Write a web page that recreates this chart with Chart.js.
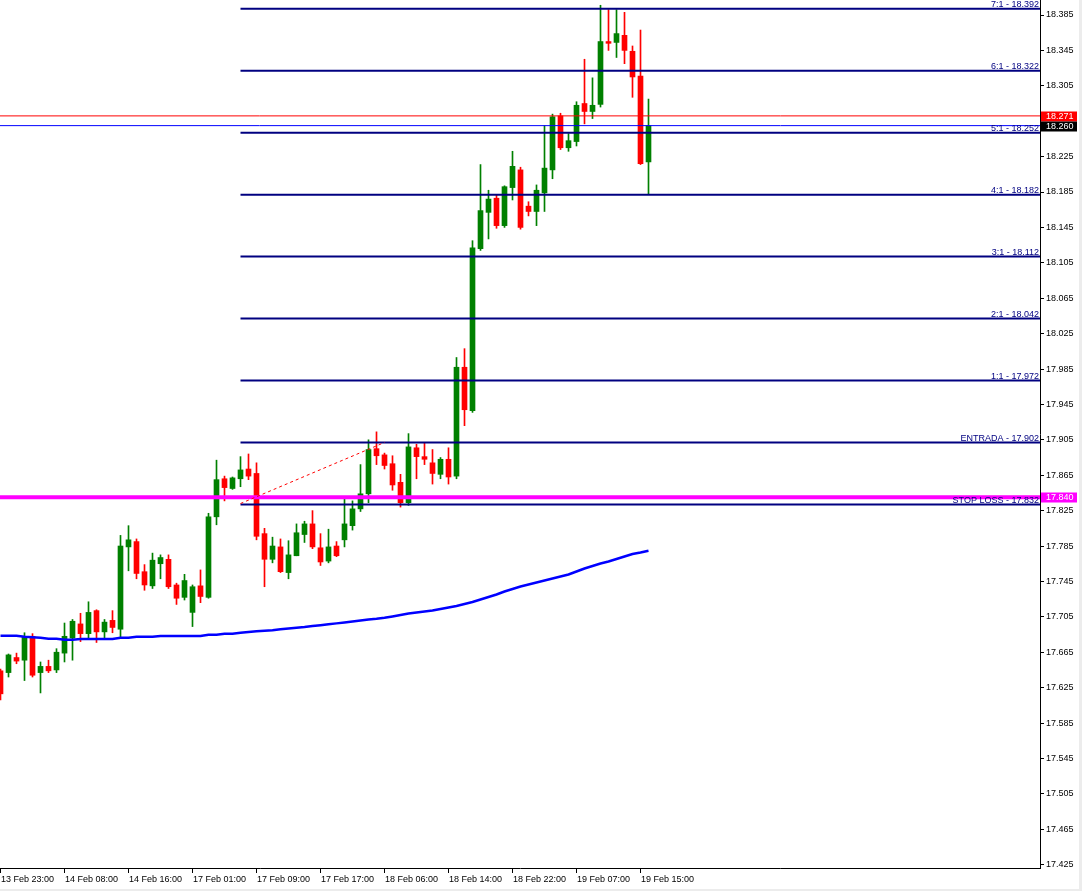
<!DOCTYPE html>
<html><head><meta charset="utf-8">
<script src="https://cdn.jsdelivr.net/npm/chart.js@4.4.0/dist/chart.umd.min.js"></script>
<style>
html,body{margin:0;padding:0;background:#fff;overflow:hidden}
#wrap{position:relative;width:1082px;height:891px}
canvas{display:block}
.fr{position:absolute;background:#ececec}
</style></head><body>
<div id="wrap"><canvas id="c" width="1082" height="891"></canvas>
<div class="fr" style="right:0;top:0;width:3px;height:891px"></div>
<div class="fr" style="left:0;bottom:0;width:1082px;height:2px"></div>
</div>
<script>
// ---- data (H1 candles) ----
const openP = [17.644,17.642,17.659,17.656,17.683,17.642,17.649,17.645,17.664,17.681,
17.697,17.686,17.712,17.688,17.701,17.691,17.784,17.790,17.756,17.740,
17.765,17.770,17.741,17.727,17.710,17.740,17.727,17.818,17.861,17.850,
17.861,17.872,17.867,17.799,17.770,17.784,17.755,17.774,17.798,17.810,
17.783,17.768,17.785,17.792,17.808,17.827,17.844,17.895,17.888,17.878,
17.857,17.834,17.896,17.886,17.879,17.866,17.883,17.864,17.987,17.938,
18.121,18.162,18.178,18.147,18.190,18.210,18.169,18.163,18.184,18.210,
18.271,18.235,18.242,18.285,18.276,18.284,18.355,18.354,18.362,18.344,
18.316,18.219];
const highP = [17.646,17.663,17.664,17.687,17.686,17.654,17.656,17.669,17.698,17.702,
17.709,17.722,17.713,17.702,17.712,17.797,17.808,17.793,17.764,17.777,
17.775,17.775,17.743,17.753,17.741,17.758,17.822,17.882,17.864,17.863,
17.886,17.889,17.879,17.805,17.795,17.793,17.791,17.810,17.813,17.825,
17.799,17.804,17.790,17.838,17.836,17.877,17.905,17.914,17.890,17.887,
17.866,17.912,17.900,17.902,17.894,17.885,17.896,17.998,18.008,18.130,
18.216,18.187,18.182,18.192,18.231,18.213,18.174,18.193,18.260,18.273,
18.274,18.251,18.287,18.335,18.314,18.396,18.391,18.391,18.388,18.350,
18.368,18.290];
const lowP = [17.611,17.637,17.652,17.633,17.637,17.619,17.642,17.642,17.654,17.656,
17.677,17.680,17.676,17.681,17.687,17.682,17.757,17.748,17.735,17.737,
17.748,17.737,17.719,17.724,17.694,17.721,17.726,17.809,17.836,17.849,
17.852,17.860,17.792,17.739,17.766,17.755,17.748,17.774,17.789,17.782,
17.763,17.766,17.773,17.784,17.803,17.824,17.834,17.877,17.872,17.848,
17.829,17.831,17.861,17.877,17.855,17.861,17.855,17.861,17.921,17.936,
18.119,18.132,18.144,18.145,18.176,18.143,18.158,18.147,18.163,18.200,
18.233,18.231,18.237,18.262,18.268,18.281,18.345,18.337,18.330,18.292,
18.216,18.183];
const closeP = [17.618,17.662,17.655,17.682,17.639,17.649,17.644,17.665,17.683,17.700,
17.686,17.710,17.688,17.699,17.693,17.785,17.792,17.754,17.741,17.769,
17.772,17.739,17.726,17.746,17.739,17.728,17.818,17.860,17.851,17.862,
17.871,17.864,17.796,17.770,17.785,17.756,17.775,17.800,17.810,17.784,
17.767,17.784,17.774,17.810,17.827,17.844,17.894,17.887,17.876,17.854,
17.834,17.897,17.886,17.883,17.867,17.883,17.863,17.987,17.939,18.122,
18.164,18.177,18.147,18.191,18.214,18.145,18.163,18.187,18.212,18.270,
18.235,18.243,18.283,18.276,18.283,18.355,18.353,18.364,18.345,18.315,
18.217,18.260];
const maP = [17.6837,17.6837,17.6837,17.6825,17.6820,17.6814,17.6803,17.6803,17.6791,17.6791,
17.6799,17.6799,17.6799,17.6799,17.6799,17.6814,17.6814,17.6825,17.6825,17.6825,
17.6833,17.6833,17.6833,17.6833,17.6833,17.6833,17.6848,17.6848,17.6859,17.6859,
17.6870,17.6878,17.6886,17.6893,17.6899,17.6909,17.6918,17.6927,17.6935,17.6946,
17.6955,17.6965,17.6976,17.6986,17.6997,17.7008,17.7020,17.7028,17.7039,17.7054,
17.7070,17.7087,17.7099,17.7110,17.7121,17.7138,17.7155,17.7172,17.7195,17.7217,
17.7246,17.7274,17.7302,17.7336,17.7364,17.7393,17.7415,17.7438,17.7460,17.7483,
17.7506,17.7528,17.7562,17.7596,17.7624,17.7652,17.7675,17.7703,17.7732,17.7760,
17.7777,17.7797];

const levelNames  = ['7:1','6:1','5:1','4:1','3:1','2:1','1:1','ENTRADA','STOP LOSS'];
const levelValues = [18.392,18.322,18.252,18.182,18.112,18.042,17.972,17.902,17.832];
const levelStartBar = 30;

const askLine = 18.271;    // red line + red price box
const bidLine = 18.260;    // blue line + black price box
const stopLine = 17.840;   // magenta line + magenta box
const trendBars = [30, 48];
const trendVals = [17.833, 17.902];

const xTickBars   = [0,8,16,24,32,40,48,56,64,72,80];
const xTickLabels = ['13 Feb 23:00','14 Feb 08:00','14 Feb 16:00','17 Feb 01:00','17 Feb 09:00',
  '17 Feb 17:00','18 Feb 06:00','18 Feb 14:00','18 Feb 22:00','19 Feb 07:00','19 Feb 15:00'];
const yTickValues = [17.425,17.465,17.505,17.545,17.585,17.625,17.665,17.705,17.745,17.785,
  17.825,17.865,17.905,17.945,17.985,18.025,18.065,18.105,18.145,18.185,18.225,18.305,18.345,18.385];

// ---- chart ----
const X_MIN = -0.0625, X_MAX = 129.9375;
const Y_MIN = 17.4212, Y_MAX = 18.40195;
const FONT = '"Liberation Sans", Arial, sans-serif';
const FSIZE = 9;

const idx = closeP.map((_, i) => i);
const candleCol = idx.map(i => closeP[i] > openP[i] ? '#008000' : '#ff0000');

const hline = (v, x0, x1, color, w, order, dash) => ({
  type: 'line', data: [{x: x0, y: v}, {x: x1, y: v}], borderColor: color, borderWidth: w,
  pointRadius: 0, order: order, borderDash: dash || [], tension: 0
});

const datasets = [
  { type: 'bar', data: idx.map(i => ({x: i, y: [lowP[i], highP[i]]})), backgroundColor: candleCol,
    barThickness: 1, grouped: false, borderWidth: 0, order: 30 },
  { type: 'bar', data: idx.map(i => ({x: i, y: [Math.min(openP[i], closeP[i]), Math.max(openP[i], closeP[i])]})),
    backgroundColor: candleCol, barThickness: 5, grouped: false, borderWidth: 0, minBarLength: 1, order: 29 },
  { type: 'line', data: idx.map(i => ({x: i, y: maP[i]})), borderColor: '#0000ff', borderWidth: 2.5,
    pointRadius: 0, tension: 0, order: 28 }
];
levelValues.forEach(v => datasets.push(hline(v, levelStartBar, X_MAX + 2, '#000080', 2, 10)));
datasets.push(hline(askLine, X_MIN - 1, X_MAX + 2, '#ff0000', 1, 6));
datasets.push(hline(bidLine, X_MIN - 1, X_MAX + 2, '#0000ff', 1, 5));
datasets.push(hline(stopLine, X_MIN - 1, X_MAX + 2, '#ff00ff', 4, 4));
datasets.push({ type: 'line', data: trendBars.map((b, k) => ({x: b, y: trendVals[k]})), borderColor: '#ff0000',
  borderWidth: 1, borderDash: [3, 3], pointRadius: 0, order: 3 });

const overlay = {
  id: 'overlay',
  afterDatasetsDraw(chart) {
    const {ctx, chartArea: a, scales: {y}} = chart;
    ctx.save();
    ctx.beginPath(); ctx.rect(a.left, a.top, a.width, a.height); ctx.clip();
    ctx.font = FSIZE + 'px ' + FONT; ctx.fillStyle = '#000080';
    ctx.textAlign = 'right'; ctx.textBaseline = 'alphabetic';
    levelValues.forEach((v, k) => {
      const py = y.getPixelForValue(v);
      ctx.fillText(levelNames[k] + ' - ' + v.toFixed(3), a.right - 1, py - 1.5);
    });
    ctx.restore();
  },
  afterDraw(chart) {
    const {ctx, chartArea: a, scales: {y}} = chart;
    ctx.save();
    ctx.font = FSIZE + 'px ' + FONT; ctx.textAlign = 'left'; ctx.textBaseline = 'middle';
    [[askLine, '#ff0000'], [bidLine, '#000000'], [stopLine, '#ff00ff']].forEach(([v, c]) => {
      const py = Math.round(y.getPixelForValue(v));
      ctx.fillStyle = c; ctx.fillRect(a.right + 1, py - 4.5, 36, 10);
      ctx.fillStyle = '#ffffff'; ctx.fillText(v.toFixed(3), a.right + 6, py + 0.5);
    });
    ctx.restore();
  }
};

Chart.defaults.font.family = FONT;
Chart.defaults.font.size = FSIZE;
Chart.defaults.color = '#000';

new Chart(document.getElementById('c'), {
  type: 'bar',
  data: { datasets },
  options: {
    responsive: false, animation: false, devicePixelRatio: 1, events: [],
    layout: { padding: 0, autoPadding: false },
    plugins: { legend: { display: false }, tooltip: { enabled: false } },
    scales: {
      x: {
        type: 'linear', min: X_MIN, max: X_MAX, offset: false, position: 'bottom',
        grid: { drawOnChartArea: false, drawTicks: true, tickLength: 5, color: '#000', offset: false },
        border: { display: true, color: '#000', width: 1 },
        ticks: { autoSkip: false, maxRotation: 0, align: 'start', padding: 1, labelOffset: 0.5,
                 color: '#000', font: { size: FSIZE, family: FONT },
                 callback: (v, i) => xTickLabels[i] },
        afterBuildTicks: s => { s.ticks = xTickBars.map(b => ({value: b})); },
        afterFit: s => { s.height = 23; s.paddingLeft = 0; s.paddingRight = 0; }
      },
      y: {
        type: 'linear', position: 'right', min: Y_MIN, max: Y_MAX,
        grid: { drawOnChartArea: false, drawTicks: true, tickLength: 4, color: '#000' },
        border: { display: true, color: '#000', width: 1 },
        ticks: { padding: 2, color: '#000', font: { size: FSIZE, family: FONT },
                 callback: v => Number(v).toFixed(3) },
        afterBuildTicks: s => { s.ticks = yTickValues.map(v => ({value: v})); },
        afterFit: s => { s.width = 42; s.paddingTop = 0; s.paddingBottom = 0; }
      }
    }
  },
  plugins: [overlay]
});
</script>
</body></html>
